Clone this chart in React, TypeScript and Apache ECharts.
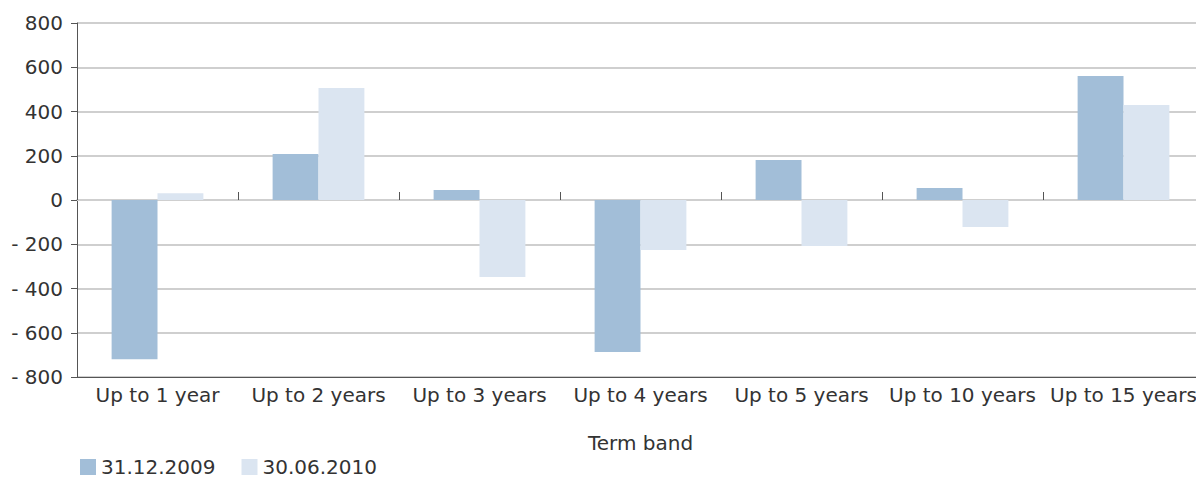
import React, { useEffect, useRef } from "react";
import * as echarts from "echarts";

const categories = ["Up to 1 year", "Up to 2 years", "Up to 3 years", "Up to 4 years", "Up to 5 years", "Up to 10 years", "Up to 15 years"];
const seriesNames = ["31.12.2009", "30.06.2010"];
const values2009 = [-720, 208, 45, -687, 181, 54, 560];
const values2010 = [30, 506, -348, -226, -208, -122, 429];
const yTicks = { min: -800, max: 800, interval: 200 };
const axisTitle = "Term band";

const FONT = "'DejaVu Sans', sans-serif";
const TEXT = "#333333";
const FS = 20;

export default function App() {
  const ref = useRef<HTMLDivElement>(null);
  useEffect(() => {
    if (!ref.current) return;
    const chart = echarts.init(ref.current, null, { renderer: "svg" });
    chart.setOption({
      animation: false,
      textStyle: { fontFamily: FONT },
      grid: { left: 77, right: 0, top: 23, bottom: 103, containLabel: false },
      legend: {
        left: 75,
        top: 452,
        itemWidth: 16,
        itemHeight: 16,
        itemGap: 26,
        icon: "rect",
        textStyle: { fontFamily: FONT, fontSize: FS, color: TEXT, lineHeight: 18 },
        data: seriesNames,
      },
      xAxis: [
        {
          type: "category",
          data: categories,
          position: "bottom",
          axisLine: { onZero: false, lineStyle: { color: "#555555", width: 1 } },
          axisTick: { show: false },
          axisLabel: { fontFamily: FONT, fontSize: FS, color: TEXT, margin: 8, interval: 0 },
          name: axisTitle,
          nameLocation: "middle",
          nameGap: 56,
          nameTextStyle: { fontFamily: FONT, fontSize: FS, color: TEXT },
        },
        {
          type: "category",
          data: categories,
          axisLine: { onZero: true, lineStyle: { color: "#cfcfcf", width: 2 } },
          axisTick: { show: true, length: 8, lineStyle: { color: "#555555", width: 1 } },
          axisLabel: { show: false },
        },
      ],
      yAxis: {
        type: "value",
        min: yTicks.min,
        max: yTicks.max,
        interval: yTicks.interval,
        axisLine: { show: true, lineStyle: { color: "#555555", width: 1 } },
        axisTick: { show: true, length: 6, lineStyle: { color: "#555555" } },
        splitLine: { lineStyle: { color: "#cfcfcf", width: 2 } },
        axisLabel: {
          fontFamily: FONT,
          fontSize: FS,
          color: TEXT,
          margin: 14,
          formatter: (v: number) => (v < 0 ? "- " + Math.abs(v) : String(v)),
        },
      },
      series: [
        {
          name: seriesNames[0],
          type: "bar",
          xAxisIndex: 0,
          data: values2009,
          itemStyle: { color: "#a2bed8" },
          barGap: "0%",
          barCategoryGap: "43%",
        },
        {
          name: seriesNames[1],
          type: "bar",
          xAxisIndex: 0,
          data: values2010,
          itemStyle: { color: "#dbe5f1" },
          barGap: "0%",
          barCategoryGap: "43%",
        },
      ],
    });
    return () => chart.dispose();
  }, []);
  return (
    <div style={{ position: "absolute", left: 0, top: 0, width: 1196, height: 480, overflow: "hidden" }}>
      <div ref={ref} style={{ width: 1204, height: 480 }} />
    </div>
  );
}
